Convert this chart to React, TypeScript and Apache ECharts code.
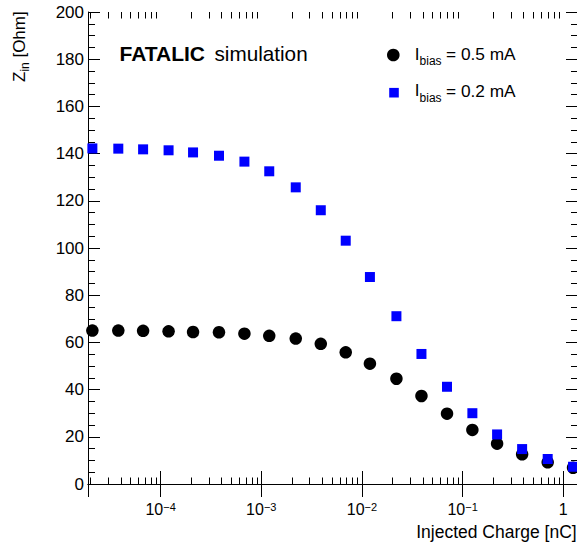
import React, { useEffect, useRef } from "react";
import * as echarts from "echarts";

// Injected charge [nC]
const charge = [
  2.1e-5, 3.8e-5, 6.7e-5, 1.2e-4, 2.1e-4, 3.8e-4, 6.8e-4, 1.2e-3, 2.2e-3, 3.9e-3,
  6.9e-3, 1.2e-2, 2.2e-2, 3.9e-2, 7.0e-2, 0.125, 0.22, 0.39, 0.7, 1.25,
];
// Z_in [Ohm] for I_bias = 0.5 mA
const zinBias05 = [
  65.0, 65.0, 64.9, 64.7, 64.4, 64.3, 63.7, 62.8, 61.6, 59.4,
  55.8, 51.0, 44.6, 37.3, 29.8, 22.9, 17.1, 12.6, 9.2, 6.9,
];
// Z_in [Ohm] for I_bias = 0.2 mA
const zinBias02 = [
  142.2, 142.1, 141.8, 141.4, 140.5, 139.1, 136.6, 132.5, 125.7, 116.0,
  103.1, 87.7, 71.1, 55.1, 41.2, 30.0, 21.0, 14.8, 10.6, 7.3,
];
const xDecades = [1e-5, 1e-4, 1e-3, 1e-2, 1e-1];
const minorMultipliers = [2, 3, 4, 5, 6, 7, 8, 9];

const X_MIN = 1.9e-5;
const X_MAX = 1.4;
const Y_MIN = 0;
const Y_MAX = 200;
const Y_STEP = 20;

const FONT = "'Liberation Sans', Arial, Helvetica, sans-serif";

export default function App() {
  const ref = useRef<HTMLDivElement>(null);

  useEffect(() => {
    const chart = echarts.init(ref.current!, null, { renderer: "svg" });

    const minorTicks = xDecades
      .flatMap((d) => minorMultipliers.map((m) => [m * d, Y_MIN]))
      .filter((p) => p[0] > X_MIN && p[0] < X_MAX);

    const xLabelFormatter = (v: number) => {
      const lg = Math.log10(v);
      const e = Math.round(lg);
      if (Math.abs(lg - e) > 1e-6) return "";
      if (e === 0) return "{b|1}";
      return "{b|10}{s|" + (e < 0 ? "\u2212" : "") + Math.abs(e) + "}";
    };

    const xAxisCommon = {
      type: "log",
      logBase: 10,
      min: X_MIN,
      max: X_MAX,
      axisLine: { show: true, lineStyle: { color: "#000", width: 1 } },
      axisTick: { show: true, inside: true, length: 13, lineStyle: { color: "#000", width: 1 } },
      minorTick: { show: false },
      splitLine: { show: false },
    };

    const yAxisCommon = {
      type: "value",
      min: Y_MIN,
      max: Y_MAX,
      interval: Y_STEP,
      axisLine: { show: true, lineStyle: { color: "#000", width: 1 } },
      axisTick: { show: true, inside: true, length: 12, lineStyle: { color: "#000", width: 1 } },
      minorTick: { show: true, splitNumber: 4, length: 7, lineStyle: { color: "#000", width: 1 } },
      splitLine: { show: false },
    };

    const option: any = {
      animation: false,
      backgroundColor: "#fff",
      grid: { left: 88, right: 2, top: 12, bottom: 61, containLabel: false },
      xAxis: [
        {
          ...xAxisCommon,
          position: "bottom",
          axisLabel: {
            show: true,
            showMinLabel: false,
            showMaxLabel: false,
            margin: 17,
            formatter: xLabelFormatter,
            rich: {
              b: { fontSize: 16, lineHeight: 16, fontFamily: FONT, color: "#000" },
              s: { fontSize: 11, lineHeight: 8, fontFamily: FONT, color: "#000", verticalAlign: "top" },
            },
          },
        },
        {
          ...xAxisCommon,
          position: "top",
          axisLabel: { show: false },
        },
      ],
      yAxis: [
        {
          ...yAxisCommon,
          position: "left",
          axisLabel: {
            show: true,
            margin: 4,
            fontSize: 17,
            fontFamily: FONT,
            color: "#000",
            padding: [3, 0, 0, 0],
          },
        },
        {
          ...yAxisCommon,
          position: "right",
          axisLabel: { show: false },
        },
      ],
      series: [
        {
          type: "custom",
          xAxisIndex: 0,
          yAxisIndex: 0,
          silent: true,
          clip: false,
          z: 1,
          data: minorTicks,
          encode: { x: 0, y: 1 },
          renderItem: (_params: any, api: any) => {
            const v = api.value(0);
            const b = api.coord([v, Y_MIN]);
            const t = api.coord([v, Y_MAX]);
            const x = Math.round(b[0]) + 0.5;
            return {
              type: "group",
              children: [
                {
                  type: "line",
                  shape: { x1: x, y1: b[1], x2: x, y2: b[1] - 6.5 },
                  style: { stroke: "#000", lineWidth: 1 },
                },
                {
                  type: "line",
                  shape: { x1: x, y1: t[1], x2: x, y2: t[1] + 6.5 },
                  style: { stroke: "#000", lineWidth: 1 },
                },
              ],
            };
          },
        },
        {
          type: "scatter",
          name: "I_bias = 0.5 mA",
          xAxisIndex: 0,
          yAxisIndex: 0,
          symbol: "circle",
          symbolSize: 12.5,
          itemStyle: { color: "#000", opacity: 1 },
          z: 3,
          data: charge.map((c, i) => [c, zinBias05[i]]),
        },
        {
          type: "scatter",
          name: "I_bias = 0.2 mA",
          xAxisIndex: 0,
          yAxisIndex: 0,
          symbol: "rect",
          symbolSize: 10,
          itemStyle: { color: "#0000ff", opacity: 1 },
          z: 4,
          data: charge.map((c, i) => [c, zinBias02[i]]),
        },
      ],
      graphic: [
        // y-axis title
        {
          type: "group",
          x: 19.5,
          y: 82,
          rotation: Math.PI / 2,
          children: [
            { type: "text", x: 0, y: 0, style: { text: "Z", fontSize: 17, fontFamily: FONT, fill: "#000", align: "left", verticalAlign: "middle" } },
            { type: "text", x: 10.4, y: 5.5, style: { text: "in", fontSize: 12, fontFamily: FONT, fill: "#000", align: "left", verticalAlign: "middle" } },
            { type: "text", x: 19.7, y: 0, style: { text: " [Ohm]", fontSize: 17, fontFamily: FONT, fill: "#000", align: "left", verticalAlign: "middle" } },
          ],
        },
        // x-axis title
        {
          type: "text",
          x: 576.7,
          y: 531.5,
          style: { text: "Injected Charge [nC]", fontSize: 17.5, fontFamily: FONT, fill: "#000", align: "right", verticalAlign: "middle" },
        },
        // FATALIC simulation
        {
          type: "text",
          x: 119.5,
          y: 53.7,
          style: { text: "FATALIC", fontSize: 21, fontWeight: "bold", fontFamily: FONT, fill: "#000", align: "left", verticalAlign: "middle" },
        },
        {
          type: "text",
          x: 214.5,
          y: 53.7,
          style: { text: "simulation", fontSize: 20.7, fontFamily: FONT, fill: "#000", align: "left", verticalAlign: "middle" },
        },
        // legend
        { type: "circle", shape: { cx: 393.3, cy: 55, r: 6.3 }, style: { fill: "#000" } },
        { type: "rect", shape: { x: 389.2, y: 87.9, width: 9.6, height: 9.6 }, style: { fill: "#0000ff" } },
        { type: "text", x: 414.8, y: 54.2, style: { text: "I", fontSize: 17, fontFamily: FONT, fill: "#000", align: "left", verticalAlign: "middle" } },
        { type: "text", x: 419.6, y: 60.8, style: { text: "bias", fontSize: 12, fontFamily: FONT, fill: "#000", align: "left", verticalAlign: "middle" } },
        { type: "text", x: 446, y: 54.2, style: { text: "= 0.5 mA", fontSize: 17.3, fontFamily: FONT, fill: "#000", align: "left", verticalAlign: "middle" } },
        { type: "text", x: 414.8, y: 90.9, style: { text: "I", fontSize: 17, fontFamily: FONT, fill: "#000", align: "left", verticalAlign: "middle" } },
        { type: "text", x: 419.6, y: 97.5, style: { text: "bias", fontSize: 12, fontFamily: FONT, fill: "#000", align: "left", verticalAlign: "middle" } },
        { type: "text", x: 446, y: 90.9, style: { text: "= 0.2 mA", fontSize: 17.3, fontFamily: FONT, fill: "#000", align: "left", verticalAlign: "middle" } },
      ],
    };

    chart.setOption(option);
    return () => chart.dispose();
  }, []);

  return (
    <div
      style={{
        position: "absolute",
        left: 0,
        top: 0,
        width: 577,
        height: 545,
        overflow: "hidden",
        background: "#fff",
      }}
    >
      <div ref={ref} style={{ width: 580, height: 545 }} />
    </div>
  );
}
